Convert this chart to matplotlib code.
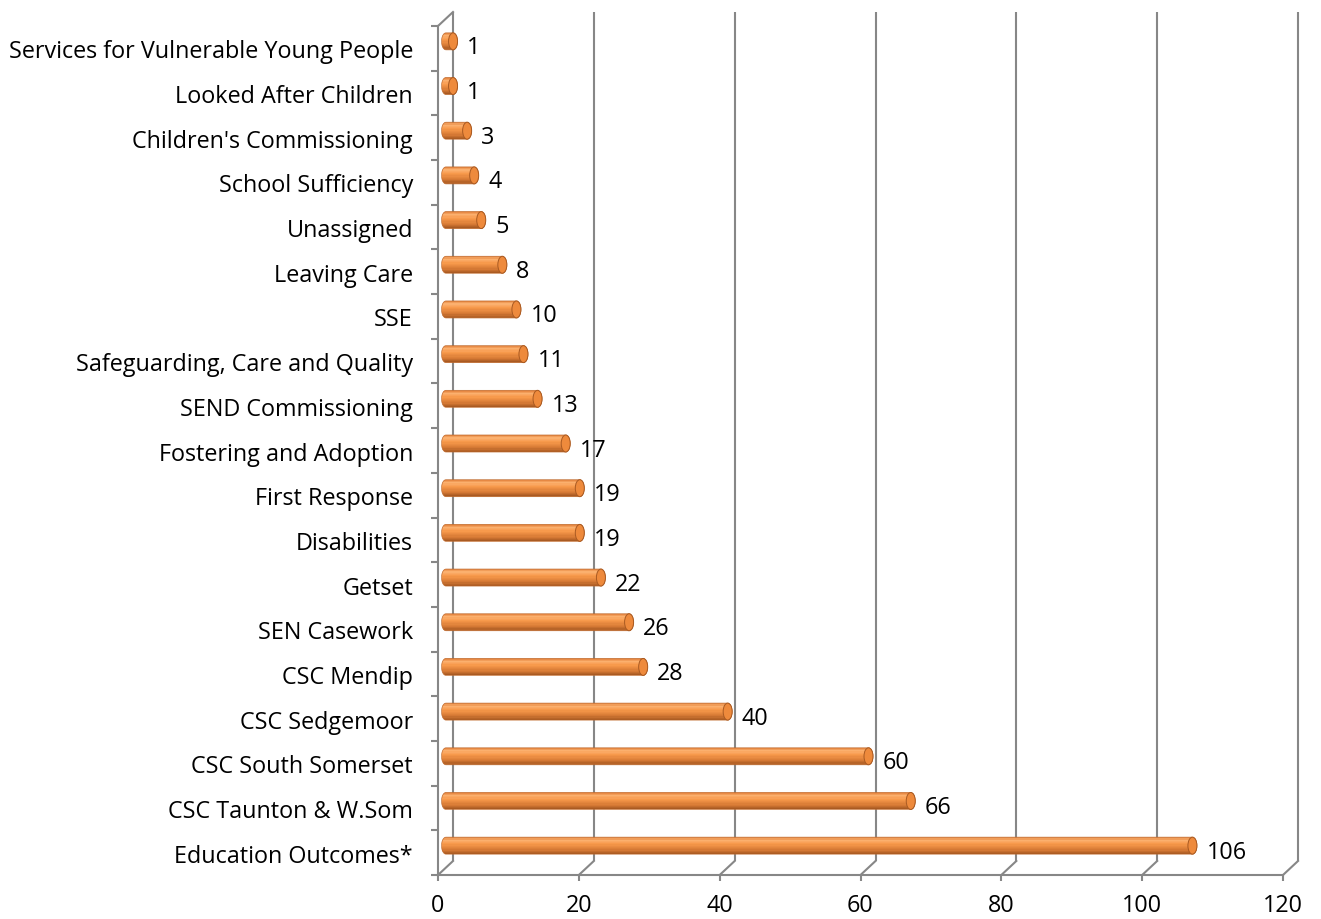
import numpy as np
import matplotlib
matplotlib.use("Agg")
import matplotlib.pyplot as plt
from matplotlib.transforms import ScaledTranslation
from matplotlib.path import Path
from matplotlib.patches import PathPatch, Ellipse
from matplotlib.colors import LinearSegmentedColormap

categories = ["Education Outcomes*", "CSC Taunton & W.Som", "CSC South Somerset",
              "CSC Sedgemoor", "CSC Mendip", "SEN Casework", "Getset", "Disabilities",
              "First Response", "Fostering and Adoption", "SEND Commissioning",
              "Safeguarding, Care and Quality", "SSE", "Leaving Care", "Unassigned",
              "School Sufficiency", "Children's Commissioning", "Looked After Children",
              "Services for Vulnerable Young People"]
values = [106, 66, 60, 40, 28, 26, 22, 19, 19, 17, 13, 11, 10, 8, 5, 4, 3, 1, 1]
xticks = [0, 20, 40, 60, 80, 100, 120]

W, H = 1321, 920
DPI = 100
FS = 16.8
plt.rcParams['font.family'] = ['Open Sans', 'DejaVu Sans']
fig = plt.figure(figsize=(W / DPI, H / DPI), dpi=DPI)

# front plane in pixels
L, R, B, T = 438, 1283, 876, 27
ax = fig.add_axes([L / W, 1 - B / H, (R - L) / W, (B - T) / H])
n = len(categories)
ax.set_xlim(0, 120)
ax.set_ylim(-0.5, n - 0.5)
for s in ax.spines.values():
    s.set_visible(False)

def off(px, py):
    return ax.transData + ScaledTranslation(px / DPI, py / DPI, fig.dpi_scale_trans)

grid_c = "#878787"
lw = 1.5
DX, DY = 15, 14
back = off(DX, DY)
for xv in xticks:
    ax.plot([xv, xv], [-0.5, n - 0.5], color=grid_c, lw=lw, transform=back,
            clip_on=False, solid_capstyle='butt', zorder=1)
ppx = (R - L) / 120.0
ppy = (B - T) / n
for xv in xticks:
    ax.plot([xv, xv + DX / ppx], [-0.5, -0.5 + DY / ppy], color=grid_c, lw=lw,
            clip_on=False, zorder=1)
ax.plot([0, DX / ppx], [n - 0.5, n - 0.5 + DY / ppy], color=grid_c, lw=lw,
        clip_on=False, zorder=1)
ax.plot([0, 0], [-0.5, n - 0.5], color=grid_c, lw=lw, clip_on=False, zorder=1)
ax.plot([0, 120], [-0.5, -0.5], color=grid_c, lw=lw, clip_on=False, zorder=1)

ax.set_xticks(xticks)
ax.set_xticklabels([str(v) for v in xticks], fontsize=FS)
ax.tick_params(axis='x', direction='out', length=4, width=1.5, color=grid_c, pad=9)
ax.set_yticks(np.arange(n))
ax.set_yticklabels(categories, fontsize=FS)
ax.set_yticks(np.arange(n + 1) - 0.5, minor=True)
ax.tick_params(axis='y', which='major', length=0, pad=18)
ax.tick_params(axis='y', which='minor', direction='out', length=5, width=1.5, color=grid_c)

# cylinders
bar_t = off(8, 7)
bh = 0.38
rx = 4.5 / ppx
cmap = LinearSegmentedColormap.from_list(
    "cyl", [(0, "#A95A22"), (0.25, "#D77A35"), (0.6, "#F7984A"), (0.85, "#FBB06E"), (1, "#E88A45")])
N = 14
t1 = np.linspace(np.pi / 2, -np.pi / 2, 30)
t2 = np.linspace(3 * np.pi / 2, np.pi / 2, 30)
for i, v in enumerate(values):
    yc = i
    ry = bh / 2
    xs = np.concatenate([v + rx * np.cos(t1), rx * np.cos(t2)])
    ys = np.concatenate([yc + ry * np.sin(t1), yc + ry * np.sin(t2)])
    verts = np.column_stack([xs, ys])
    verts = np.vstack([verts, verts[:1]])
    path = Path(verts)
    body = PathPatch(path, transform=bar_t, facecolor="none", edgecolor="#C06A2C", lw=0.5, zorder=4)
    ax.add_patch(body)
    clip = PathPatch(path, transform=bar_t, facecolor="none", edgecolor="none")
    ax.add_patch(clip)
    for k in range(N):
        y0 = yc - ry + k * (2 * ry / N)
        strip = ax.barh(y0, v + 2 * rx, left=-rx, height=2 * ry / N + 0.002, align='edge',
                        color=cmap(k / (N - 1)), transform=bar_t, zorder=3, lw=0)
        for p in strip:
            p.set_clip_path(clip)
    cap = Ellipse((v, yc), width=2 * rx, height=2 * ry, transform=bar_t,
                  facecolor="#EE8A3C", edgecolor="#A95A22", lw=0.7, zorder=5)
    ax.add_patch(cap)
    ax.text(v, yc, str(v), transform=off(22, 1), fontsize=FS, va='center', ha='left',
            color="black", zorder=6)

fig.savefig("out.png", dpi=DPI)
